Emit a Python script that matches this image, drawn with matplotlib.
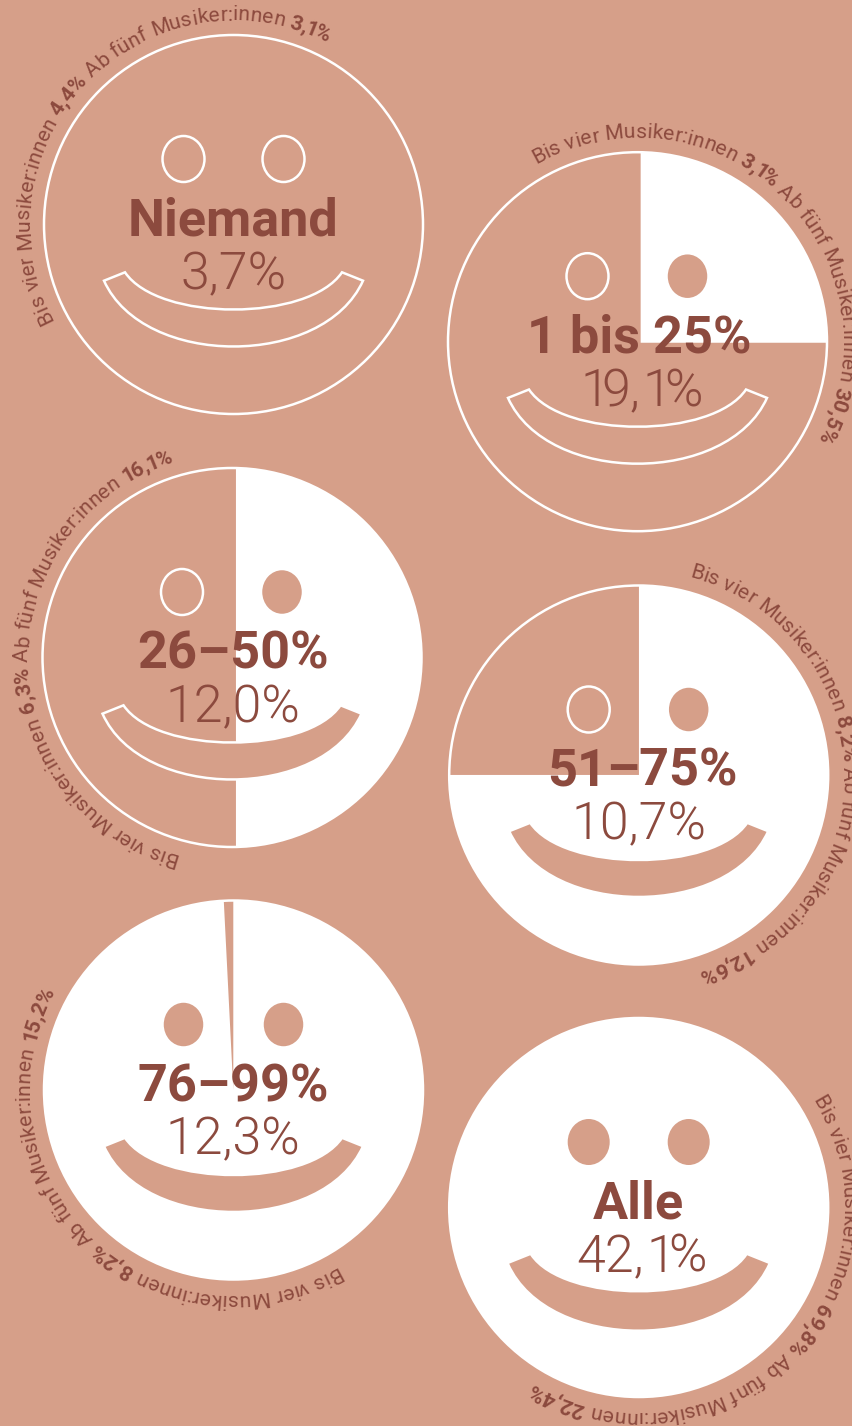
import numpy as np
import matplotlib
matplotlib.use("Agg")
import matplotlib.pyplot as plt
from matplotlib.patches import Circle, Ellipse, Wedge, PathPatch
from matplotlib.path import Path
from matplotlib.textpath import TextPath
from matplotlib.font_manager import FontProperties

BG = "#D69F89"
INK = "#8C4A3E"

titles = ["Niemand", "1 bis 25%", "26–50%", "51–75%", "76–99%", "Alle"]
shares = ["3,7%", "19,1%", "12,0%", "10,7%", "12,3%", "42,1%"]
# Anteil der weissen Flaeche
fill_pct = [0, 25, 50, 75, 99.2, 100]
bis_vier = ["4,4%", "3,1%", "6,3%", "8,2%", "8,2%", "69,8%"]
ab_fuenf = ["3,1%", "30,5%", "16,1%", "12,6%", "15,2%", "22,4%"]

# layout
centers = [(233.5, 224.5), (637.5, 341.7), (232.0, 657.5), (638.7, 775.0), (233.5, 1090.0), (638.7, 1207.5)]
text_x = [233.3, 639.0, 233.2, 639.2, 233.3, 638.7]
wedge_off = [(0, 0), (4.4, -0.2), (5.2, 0), (1.5, 1.2), (-0.2, 0), (0, 0)]
start_deg = [242, 330, 195, 14, 149.5, 58]
# die breite 1 schliesst im Original enger: Index -> (Schnitte, Luecken in px)
title_cut = {3: ([2], [11])}
share_cut = {1: ([1, 3, 4], [8.4, 7.5, 9]), 5: ([3, 4], [7, 8.7])}

R = 189.5
TEXT_R = 204
LW = 2.5 * 72 / 100
SMALL = 21.3


def px(size):
    return size * 72 / 100


fig = plt.figure(figsize=(8.52, 14.26), dpi=100, facecolor=BG)
ax = fig.add_axes([0, 0, 1, 1])
ax.set_xlim(0, 852)
ax.set_ylim(1426, 0)
ax.axis("off")

reg = FontProperties(family="Roboto", size=px(SMALL))
bold = FontProperties(family="Roboto", weight="bold", size=px(SMALL))
title_fp = FontProperties(family="Roboto", weight="bold", size=px(52.3))
share_fp = FontProperties(family="Roboto", weight=300, size=px(52))


def mouth(cx, cy):
    verts = [(-129.5, 56.2), (-90, 143.9), (90, 143.9), (129.5, 56.2),
             (108.5, 47.8), (75, 97.4), (-75, 97.4), (-108.5, 47.8),
             (-129.5, 56.2)]
    verts = [(cx + a, cy + b) for a, b in verts]
    codes = [Path.MOVETO, Path.CURVE4, Path.CURVE4, Path.CURVE4,
             Path.LINETO, Path.CURVE4, Path.CURVE4, Path.CURVE4,
             Path.CLOSEPOLY]
    return PathPatch(Path(verts, codes), fc=BG, ec="white", lw=LW, zorder=4)


def path_width(string, fp):
    return TextPath((0, 0), string, prop=fp).get_extents().x1 * 100 / 72


def ink(string, fp):
    e = TextPath((0, 0), string, prop=fp).get_extents()
    return e.x0 * 100 / 72, e.x1 * 100 / 72


def advance(ch, fp):
    # Breite in Pixeln, Leerzeichen ueber Differenz
    return path_width("x" + ch + "x", fp) - path_width("xx", fp)


def curved(cx, cy, start, parts):
    # Zeichen einzeln auf den Kreis setzen
    ang = start
    for string, fp in parts:
        prev = ""
        for ch in string:
            raw = advance(ch, fp)
            if ch == " ":
                ang += np.degrees(raw / TEXT_R)
                prev = ch
                continue
            x0, x1 = ink(ch, fp)
            # ha=center meint die Box von linker Tinte bis Vorschub
            anchor = (x0 + raw) / 2
            adv = raw
            if ch == "1" and fp is bold:
                adv = raw - 1.5
                anchor = adv / 2 + (x0 + raw) / 2 - (x0 + x1) / 2
                if prev == ",":
                    ang -= np.degrees(2.5 / TEXT_R)
            mid = ang + np.degrees(anchor / TEXT_R)
            t = np.radians(mid)
            x = cx + TEXT_R * np.sin(t)
            y = cy - TEXT_R * np.cos(t)
            ax.text(x, y, ch, fontproperties=fp, color=INK, rotation=-mid, rotation_mode="anchor",
                    ha="center", va="baseline", zorder=6)
            ang += np.degrees(adv / TEXT_R)
            prev = ch


def centered(x, y, string, fp, cut):
    if cut is None:
        ax.text(x, y, string, fontproperties=fp, color=INK, ha="center", va="baseline", zorder=7)
        return
    cuts, gaps = cut
    edges = [0] + cuts + [len(string)]
    pieces = [string[a:b] for a, b in zip(edges[:-1], edges[1:])]
    widths = [ink(p, fp)[1] - ink(p, fp)[0] for p in pieces]
    pos = x - (sum(widths) + sum(gaps)) / 2
    for k, piece in enumerate(pieces):
        ax.text(pos, y, piece, fontproperties=fp, color=INK, ha="left", va="baseline", zorder=7)
        if k < len(gaps):
            pos += widths[k] + gaps[k]


for i, (cx, cy) in enumerate(centers):
    disc = Circle((cx, cy), R, fc=BG, ec="white", lw=LW, zorder=1)
    ax.add_patch(disc)
    if fill_pct[i] > 0:
        sweep = fill_pct[i] * 3.6
        # y-Achse ist umgedreht, darum laeuft der Winkel im Uhrzeigersinn
        dx, dy = wedge_off[i]
        edge = 0 if fill_pct[i] > 90 else LW
        w = Wedge((cx + dx, cy + dy), R + 12, -90, -90 + sweep, fc="white", ec="white", lw=edge, zorder=2)
        ax.add_patch(w)
        w.set_clip_path(disc)
    # beim vollen Gesicht fehlt die weisse Kontur
    stroke = 0 if fill_pct[i] == 100 else LW
    for eye in (-50, 50):
        ax.add_patch(Ellipse((cx + eye, cy - 65.5), 42, 46, fc=BG, ec="white", lw=stroke, zorder=4))
    m = mouth(cx, cy)
    m.set_linewidth(stroke)
    ax.add_patch(m)
    centered(text_x[i], cy + 11, titles[i], title_fp, title_cut.get(i))
    centered(text_x[i], cy + 64.5, shares[i], share_fp, share_cut.get(i))
    curved(cx, cy, start_deg[i], [("Bis vier Musiker:innen ", reg), (bis_vier[i], bold), (" Ab fünf Musiker:innen ", reg), (ab_fuenf[i], bold)])

fig.savefig("out.png", dpi=100, facecolor=BG)
